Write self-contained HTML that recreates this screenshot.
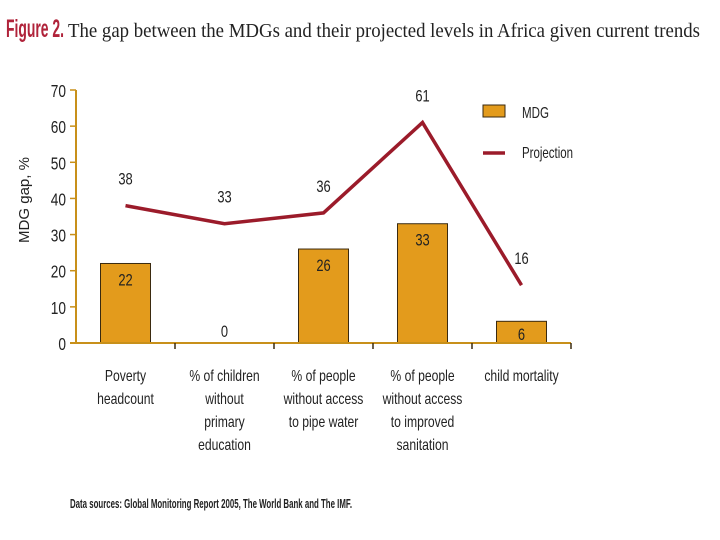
<!DOCTYPE html>
<html><head><meta charset="utf-8"><style>
body{margin:0;background:#fff;width:720px;height:540px;overflow:hidden}
svg{display:block}
text{font-family:"Liberation Sans",sans-serif}
</style></head><body>
<svg id="c" width="720" height="540" xmlns="http://www.w3.org/2000/svg">
<text x="6" y="37"><tspan fill="#b0233a" font-size="25" font-weight="bold" textLength="58" lengthAdjust="spacingAndGlyphs">Figure 2.</tspan><tspan x="68" font-family="Liberation Serif, serif" font-size="20" fill="#222" textLength="632" lengthAdjust="spacingAndGlyphs">The gap between the MDGs and their projected levels in Africa given current trends</tspan></text>
<text transform="translate(29,200) rotate(-90)" text-anchor="middle" font-size="15" fill="#222">MDG gap, %</text>
<g id="plot"></g>
<g>
<rect x="483" y="105" width="22" height="12" fill="#e39b1c" stroke="#3a2a10" stroke-width="1"/>
<text x="522" y="118" font-size="16" fill="#222" textLength="27" lengthAdjust="spacingAndGlyphs">MDG</text>
<line x1="483" y1="153" x2="505" y2="153" stroke="#9b1b2a" stroke-width="3.5"/>
<text x="522" y="158" font-size="16" fill="#222" textLength="51" lengthAdjust="spacingAndGlyphs">Projection</text>
</g>
<text x="70" y="508" font-size="13" font-weight="bold" fill="#222" textLength="282" lengthAdjust="spacingAndGlyphs">Data sources: Global Monitoring Report 2005, The World Bank and The IMF.</text>
</svg>
<script>
const categories=[["Poverty","headcount"],["% of children","without","primary","education"],["% of people","without access","to pipe water"],["% of people","without access","to improved","sanitation"],["child mortality"]];
const mdg=[22,0,26,33,6];
const projection=[38,33,36,61,16];
const yTicks=[0,10,20,30,40,50,60,70];
const NS="http://www.w3.org/2000/svg";
const g=document.getElementById('plot');
const x0=76,cw=99,y0=343,ppu=253/70,SX=0.76;
const y=v=>y0-v*ppu, cx=i=>x0+cw*(i+0.5);
function mk(t,a,txt,par){const e=document.createElementNS(NS,t);for(const k in a)e.setAttribute(k,a[k]);if(txt!=null)e.textContent=txt;(par||g).appendChild(e);return e;}
function ntext(x,yy,anchor,size,txt){return mk('text',{transform:`translate(${x},${yy}) scale(${SX},1)`,x:0,y:0,'text-anchor':anchor,'font-size':size,fill:'#222'},txt);}
yTicks.forEach(v=>{
 const t=mk('line',{x1:x0-6,x2:x0,y1:y(v),y2:y(v),stroke:'#c8901a','stroke-width':1.5});
 
 
 const l=ntext(x0-10,y(v)+7,'end',18,v);
 
 
});
mdg.forEach((v,i)=>{
 const b=mk('rect',{x:cx(i)-25,y:y(v),width:50,height:v*ppu,fill:'#e39b1c',stroke:'#3a2a10','stroke-width':1});
 
 
 const ly=v>3?Math.min(y(v)+22,y0-3):y(v)-6;
 const l=ntext(cx(i),ly,'middle',17,v);
 
 
});
const ax=mk('line',{x1:x0,x2:x0,y1:y(70),y2:y0,stroke:'#c8901a','stroke-width':2});


const xa=mk('line',{x1:x0-6,x2:x0+cw*5,y1:y0,y2:y0,stroke:'#c8901a','stroke-width':2});


for(let i=1;i<=5;i++){
 const t=mk('line',{x1:x0+cw*i,x2:x0+cw*i,y1:y0,y2:y0+6,stroke:'#3a2a10','stroke-width':1.5});
 
 
}
categories.forEach((lines,i)=>{
 const t=mk('text',{transform:`translate(${cx(i)},381) scale(${SX},1)`,'text-anchor':'middle','font-size':16,fill:'#222'});
 
 
 lines.forEach((s,j)=>{const sp=document.createElementNS(NS,'tspan');sp.setAttribute('x',0);sp.setAttribute('y',j*23);sp.textContent=s;t.appendChild(sp);});
});
const ln=mk('polyline',{points:projection.map((v,i)=>cx(i)+','+y(v)).join(' '),fill:'none',stroke:'#9b1b2a','stroke-width':3.5,'stroke-linejoin':'miter'});


projection.forEach((v,i)=>{
 const l=ntext(cx(i),y(v)-21,'middle',17,v);
 
 
});
</script>
</body></html>
